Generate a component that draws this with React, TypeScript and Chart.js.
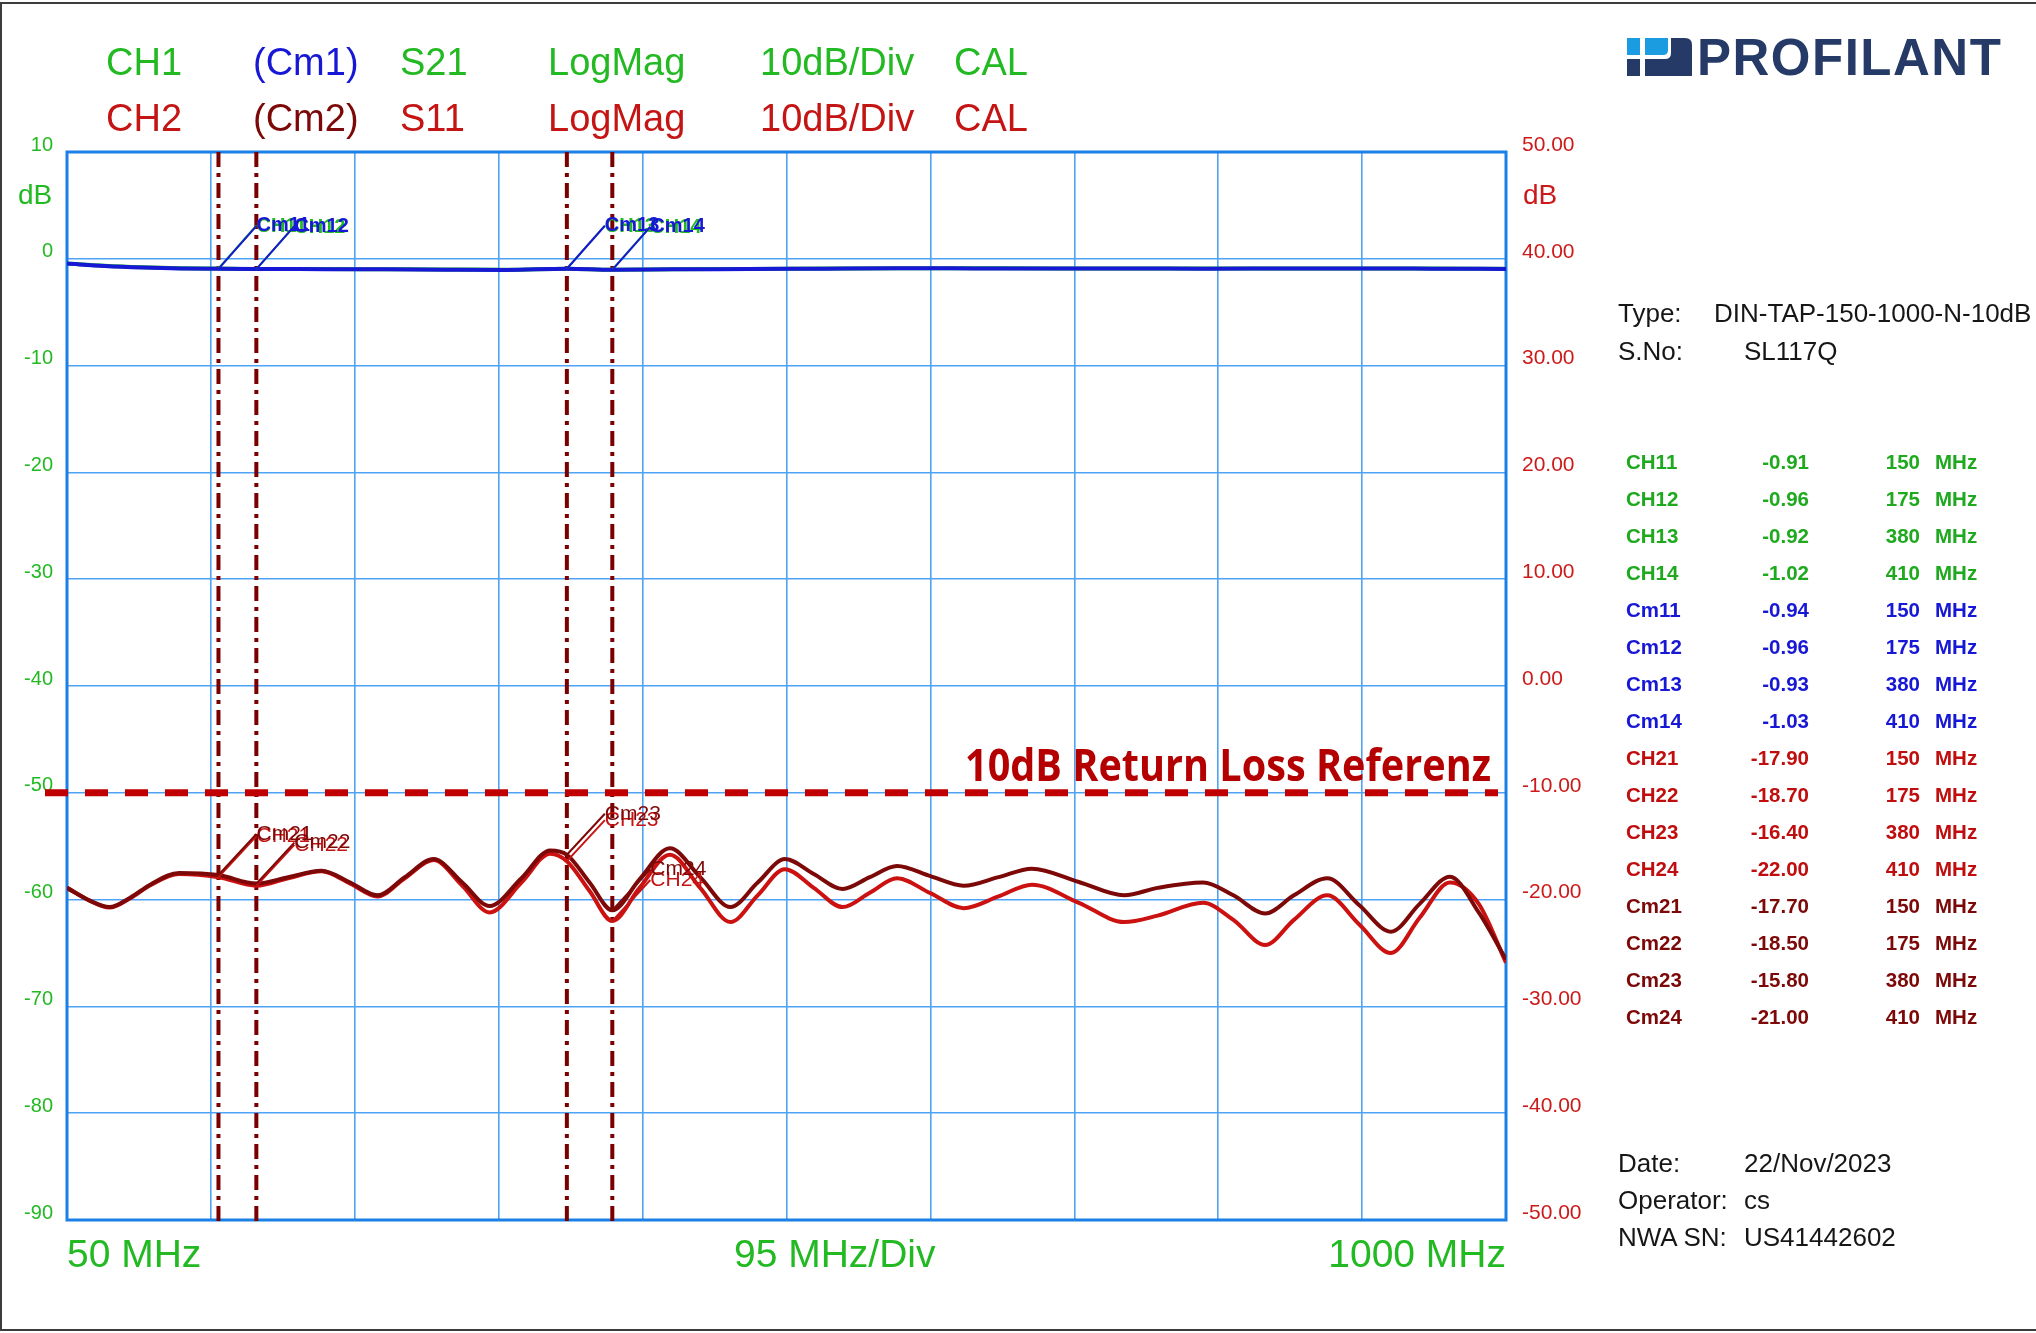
import React, { useEffect, useRef } from "react";
import { Chart, registerables } from "chart.js";

Chart.register(...registerables);

// ---------------- data ----------------
const xGridFreqs = [50, 145, 240, 335, 430, 525, 620, 715, 810, 905, 1000];
const xAxisLabels = ["50 MHz", "95 MHz/Div", "1000 MHz"];
const leftAxisMin = -90;
const leftAxisMax = 10;
const rightAxisMin = -50;
const rightAxisMax = 50;
const axisStepDb = 10;

const s21Freqs = [50, 75, 100, 125, 150, 175, 220, 260, 300, 340, 380, 410, 450, 500, 550, 600, 650, 700, 750, 800, 850, 900, 950, 1000];
const cm1S21 = [-0.45, -0.68, -0.82, -0.9, -0.94, -0.96, -0.97, -0.99, -1.02, -1.04, -0.93, -1.03, -0.99, -0.96, -0.92, -0.89, -0.9, -0.91, -0.9, -0.92, -0.91, -0.9, -0.92, -0.95];
const ch1S21 = [-0.43, -0.66, -0.8, -0.88, -0.91, -0.96, -0.96, -0.98, -1.0, -1.03, -0.92, -1.02, -0.98, -0.95, -0.91, -0.88, -0.89, -0.9, -0.9, -0.91, -0.9, -0.9, -0.91, -0.94];

const s11Freqs = [50, 65, 78, 92, 105, 124, 150, 175, 196, 218, 237, 255, 273, 292, 311, 329, 350, 369, 380, 395, 410, 428, 448, 468, 488, 506, 524, 543, 562, 580, 598, 620, 642, 665, 687, 718, 748, 770, 800, 820, 841, 860, 882, 903, 924, 943, 963, 982, 1000];
const cm2S11 = [-18.9, -20.1, -20.7, -19.8, -18.6, -17.5, -17.7, -18.5, -17.9, -17.3, -18.4, -19.6, -17.9, -16.2, -18.4, -20.6, -18.0, -15.4, -15.8, -18.4, -21.0, -18.1, -15.2, -17.9, -20.7, -18.4, -16.2, -17.6, -19.0, -17.9, -16.85, -17.8, -18.7, -17.9, -17.1, -18.35, -19.6, -18.9, -18.4, -19.6, -21.3, -19.6, -18.0, -20.5, -23.0, -20.4, -17.85, -21.2, -25.6];
const ch2S11 = [-18.9, -20.1, -20.75, -19.85, -18.65, -17.6, -17.9, -18.7, -18.0, -17.35, -18.5, -19.7, -18.0, -16.3, -18.7, -21.2, -18.4, -15.7, -16.4, -19.2, -22.0, -18.9, -15.8, -18.9, -22.1, -19.6, -17.15, -18.9, -20.7, -19.35, -18.0, -19.4, -20.8, -19.7, -18.6, -20.3, -22.1, -21.5, -20.3, -21.9, -24.25, -21.9, -19.6, -22.3, -25.0, -21.7, -18.4, -20.4, -25.9];

const markerFreqs = [150, 175, 380, 410];
const markerCH1 = [-0.91, -0.96, -0.92, -1.02];
const markerCm1 = [-0.94, -0.96, -0.93, -1.03];
const markerCH2 = [-17.9, -18.7, -16.4, -22.0];
const markerCm2 = [-17.7, -18.5, -15.8, -21.0];

const returnLossRefDb = -10;
const returnLossLabel = "10dB Return Loss Referenz";

const headerRow1 = ["CH1", "(Cm1)", "S21", "LogMag", "10dB/Div", "CAL"];
const headerRow2 = ["CH2", "(Cm2)", "S11", "LogMag", "10dB/Div", "CAL"];
const axisUnit = "dB";
const deviceType = ["Type:", "DIN-TAP-150-1000-N-10dB"];
const deviceSerial = ["S.No:", "SL117Q"];
const measInfo = [
  ["Date:", "22/Nov/2023"],
  ["Operator:", "cs"],
  ["NWA SN:", "US41442602"],
];
const brandName = "PROFILANT";

// ---------------- styles ----------------
const W = 2036;
const H = 1333;
const FONT = "'Liberation Sans', Arial, sans-serif";
const GREEN = "#22b922";
const GREEN_T = "#1ea91e";
const BLUE = "#1717d6";
const RED = "#c41414";
const MAROON = "#7c0808";
const GRID = "#4ea3f5";
const FRAME = "#1a7fe6";
const NAVY = "#253a66";
const LOGO_BLUE = "#1b9be0";

const headerX = [106, 253, 400, 548, 760, 954];
const row1Colors = [GREEN, BLUE, GREEN, GREEN, GREEN, GREEN];
const row2Colors = [RED, MAROON, RED, RED, RED, RED];

const vnaOverlay = {
  id: "vnaOverlay",
  beforeDatasetsDraw(chart: any) {
    const { ctx, chartArea: a, scales } = chart;
    ctx.save();
    ctx.strokeStyle = FRAME;
    ctx.lineWidth = 3;
    ctx.strokeRect(a.left, a.top, a.right - a.left, a.bottom - a.top);
    ctx.strokeStyle = "#7a0000";
    ctx.lineWidth = 4;
    ctx.setLineDash([15, 6, 4, 6]);
    markerFreqs.forEach((f) => {
      const x = scales.x.getPixelForValue(f);
      ctx.beginPath();
      ctx.moveTo(x, a.top);
      ctx.lineTo(x, a.bottom + 6);
      ctx.stroke();
    });
    ctx.restore();
  },
  afterDatasetsDraw(chart: any) {
    const { ctx, chartArea: a, scales } = chart;
    const xs = scales.x;
    ctx.save();
    const leader = (f: number, v: number, scale: any, text: string, color: string, font: string, dx: number, dy: number, ty: number) => {
      const x = xs.getPixelForValue(f);
      const y = scale.getPixelForValue(v);
      ctx.setLineDash([]);
      ctx.strokeStyle = color;
      ctx.lineWidth = 2;
      ctx.beginPath();
      ctx.moveTo(x, y);
      ctx.lineTo(x + dx, y + dy);
      ctx.stroke();
      ctx.fillStyle = color;
      ctx.font = font;
      ctx.textAlign = "left";
      ctx.textBaseline = "middle";
      ctx.fillText(text, x + dx, y + dy + ty);
    };
    const s21Font = `bold 20px ${FONT}`;
    const s11Font = `21px ${FONT}`;
    markerFreqs.forEach((f, i) => leader(f, markerCH1[i], scales.y, `CH1${i + 1}`, GREEN, s21Font, 38, -43, 1));
    markerFreqs.forEach((f, i) => leader(f, markerCm1[i], scales.y, `Cm1${i + 1}`, BLUE, s21Font, 38, -43, 0));
    markerFreqs.forEach((f, i) => leader(f, markerCH2[i], scales.y2, `CH2${i + 1}`, RED, s11Font, 38, -41, 0));
    markerFreqs.forEach((f, i) => leader(f, markerCm2[i], scales.y2, `Cm2${i + 1}`, MAROON, s11Font, 38, -41, 0));

    // return loss reference line
    const yRef = scales.y2.getPixelForValue(returnLossRefDb);
    ctx.setLineDash([23, 17]);
    ctx.strokeStyle = "#c00000";
    ctx.lineWidth = 7;
    ctx.beginPath();
    ctx.moveTo(a.left - 22, yRef);
    ctx.lineTo(a.right - 8, yRef);
    ctx.stroke();

    ctx.setLineDash([]);
    ctx.font = `bold 45px 'Open Sans', ${FONT}`;
    const w = ctx.measureText(returnLossLabel).width;
    const sx = 526 / w;
    ctx.translate(a.right - 15, yRef - 12);
    ctx.scale(sx, 1);
    ctx.fillStyle = "#b40000";
    ctx.textAlign = "right";
    ctx.textBaseline = "alphabetic";
    ctx.fillText(returnLossLabel, 0, 0);
    ctx.restore();
  },
};

const txt = (
  key: string,
  text: string,
  x: number,
  yc: number,
  size: number,
  color: string,
  opts: { bold?: boolean; right?: boolean; family?: string } = {}
) => {
  const style: any = {
    position: "absolute",
    top: yc,
    transform: "translateY(-50%)",
    fontFamily: opts.family || FONT,
    fontSize: size,
    lineHeight: 1,
    color,
    whiteSpace: "nowrap",
    fontWeight: opts.bold ? 700 : 400,
  };
  if (opts.right) style.right = W - x;
  else style.left = x;
  return (
    <div key={key} style={style}>
      {text}
    </div>
  );
};

export default function App() {
  const canvasRef = useRef<HTMLCanvasElement | null>(null);

  useEffect(() => {
    const canvas = canvasRef.current;
    if (!canvas) return;
    const line = (data: number[], freqs: number[], color: string, axis: string, label: string) => ({
      label,
      data: freqs.map((f, i) => ({ x: f, y: data[i] })),
      yAxisID: axis,
      borderColor: color,
      backgroundColor: color,
      borderWidth: 4,
      pointRadius: 0,
      fill: false,
      cubicInterpolationMode: "monotone" as const,
    });
    const chart = new Chart(canvas, {
      type: "line",
      data: {
        datasets: [
          line(cm1S21, s21Freqs, BLUE, "y", "Cm1 S21"),
          line(ch1S21, s21Freqs, GREEN, "y", "CH1 S21"),
          line(cm2S11, s11Freqs, MAROON, "y2", "Cm2 S11"),
          line(ch2S11, s11Freqs, "#cc1111", "y2", "CH2 S11"),
        ],
      },
      options: {
        responsive: false,
        animation: false,
        devicePixelRatio: 1,
        layout: { padding: { left: 0, right: 0, top: 152, bottom: 113 } },
        plugins: { legend: { display: false }, tooltip: { enabled: false } },
        scales: {
          x: {
            type: "linear",
            min: xGridFreqs[0],
            max: xGridFreqs[xGridFreqs.length - 1],
            afterBuildTicks: (s: any) => {
              s.ticks = xGridFreqs.map((value) => ({ value }));
            },
            afterFit: (s: any) => {
              s.height = 0;
            },
            ticks: { display: false },
            grid: { color: GRID, lineWidth: 1.6, drawTicks: false },
            border: { display: false },
          },
          y: {
            position: "left",
            min: leftAxisMin,
            max: leftAxisMax,
            afterFit: (s: any) => {
              s.width = 67;
            },
            ticks: {
              stepSize: axisStepDb,
              color: GREEN,
              font: { family: FONT, size: 20 },
              padding: 14,
              labelOffset: -7,
            },
            grid: { color: GRID, lineWidth: 1.6, drawTicks: false },
            border: { display: false },
          },
          y2: {
            position: "right",
            min: rightAxisMin,
            max: rightAxisMax,
            afterFit: (s: any) => {
              s.width = W - 1506;
            },
            ticks: {
              stepSize: axisStepDb,
              color: "#cc1a1a",
              font: { family: FONT, size: 21 },
              padding: 16,
              labelOffset: -7,
              callback: (v: any) => Number(v).toFixed(2),
            },
            grid: { display: false, drawTicks: false },
            border: { display: false },
          },
        },
      },
      plugins: [vnaOverlay],
    } as any);
    return () => chart.destroy();
  }, []);

  const tableGroups = [
    { prefix: "CH1", values: markerCH1, color: GREEN_T },
    { prefix: "Cm1", values: markerCm1, color: BLUE },
    { prefix: "CH2", values: markerCH2, color: "#c00d0d" },
    { prefix: "Cm2", values: markerCm2, color: MAROON },
  ];
  const tableRows: any[] = [];
  tableGroups.forEach((g) =>
    g.values.forEach((v, i) =>
      tableRows.push({ name: `${g.prefix}${i + 1}`, value: v.toFixed(2), freq: markerFreqs[i], color: g.color })
    )
  );

  return (
    <div
      style={{
        position: "absolute",
        left: 0,
        top: 0,
        width: W,
        height: H,
        overflow: "hidden",
        background: "#fff",
      }}
    >
      <canvas ref={canvasRef} width={W} height={H} style={{ position: "absolute", left: 0, top: 0 }} />
      {/* outer frame */}
      <div style={{ position: "absolute", left: 0, top: 2, width: W, height: 2, background: "#3c3c3c" }} />
      <div style={{ position: "absolute", left: 0, top: 2, width: 2, height: 1329, background: "#3c3c3c" }} />
      <div style={{ position: "absolute", left: 0, top: 1329, width: W, height: 2, background: "#3c3c3c" }} />

      {headerRow1.map((t, i) => txt(`h1-${i}`, t, headerX[i], 62, 38, row1Colors[i]))}
      {headerRow2.map((t, i) => txt(`h2-${i}`, t, headerX[i], 118, 38, row2Colors[i]))}

      {txt("dbl", axisUnit, 18, 195, 28, GREEN)}
      {txt("dbr", axisUnit, 1523, 195, 28, "#cc1a1a")}

      {txt("xl0", xAxisLabels[0], 67, 1253, 39, GREEN)}
      {txt("xl1", xAxisLabels[1], 734, 1253, 39, GREEN)}
      {txt("xl2", xAxisLabels[2], 1506, 1253, 39, GREEN, { right: true })}

      {/* logo */}
      <svg
        width={65}
        height={38}
        viewBox="0 0 65 38"
        style={{ position: "absolute", left: 1627, top: 38 }}
      >
        <rect x={0} y={0} width={13} height={17} fill={LOGO_BLUE} />
        <rect x={0} y={21} width={13} height={17} fill={NAVY} />
        <path d="M18 0 H41 V12 Q41 17 36 17 H18 Z" fill={LOGO_BLUE} />
        <path d="M44 0 H58 Q65 0 65 7 V38 H18 V21 H38 Q44 21 44 15 Z" fill={NAVY} />
      </svg>
      <div
        style={{
          position: "absolute",
          left: 1697,
          top: 57,
          transform: "translateY(-50%)",
          fontFamily: FONT,
          fontWeight: 700,
          fontSize: 51,
          lineHeight: 1,
          letterSpacing: 1.5,
          color: NAVY,
          whiteSpace: "nowrap",
        }}
      >
        {brandName}
      </div>

      {txt("ty0", deviceType[0], 1618, 313, 26, "#161616")}
      {txt("ty1", deviceType[1], 1714, 313, 26, "#161616")}
      {txt("sn0", deviceSerial[0], 1618, 351, 26, "#161616")}
      {txt("sn1", deviceSerial[1], 1744, 351, 26, "#161616")}

      {tableRows.map((r, i) => (
        <React.Fragment key={`row-${i}`}>
          {txt(`tn-${i}`, r.name, 1626, 462 + 37 * i, 20.5, r.color, { bold: true })}
          {txt(`tv-${i}`, r.value, 1809, 462 + 37 * i, 20.5, r.color, { bold: true, right: true })}
          {txt(`tf-${i}`, String(r.freq), 1920, 462 + 37 * i, 20.5, r.color, { bold: true, right: true })}
          {txt(`tu-${i}`, "MHz", 1935, 462 + 37 * i, 20.5, r.color, { bold: true })}
        </React.Fragment>
      ))}

      {measInfo.map((m, i) => (
        <React.Fragment key={`mi-${i}`}>
          {txt(`mk-${i}`, m[0], 1618, 1163 + 37 * i, 26, "#161616")}
          {txt(`mv-${i}`, m[1], 1744, 1163 + 37 * i, 26, "#161616")}
        </React.Fragment>
      ))}
    </div>
  );
}
